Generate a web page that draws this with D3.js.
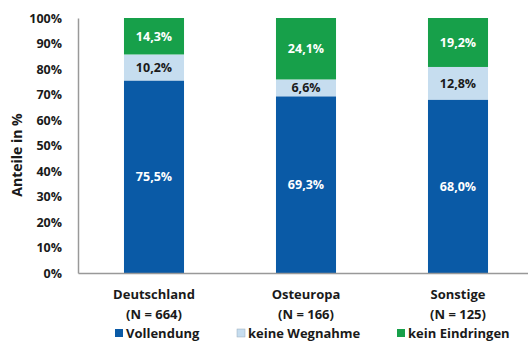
<!DOCTYPE html>
<html>
<head>
<meta charset="utf-8">
<script src="https://cdn.jsdelivr.net/npm/d3@7"></script>
<style>
  body { margin: 0; background: #fff; }
  text { font-family: "Open Sans", sans-serif; font-weight: bold; }
</style>
</head>
<body>
<svg id="chart" width="528" height="342"></svg>
<script>
// data
const groups = ["Deutschland", "Osteuropa", "Sonstige"];
const groupN = ["(N = 664)", "(N = 166)", "(N = 125)"];
const seriesNames = ["Vollendung", "keine Wegnahme", "kein Eindringen"];
const vollendung = [75.5, 69.3, 68.0];
const keineWegnahme = [10.2, 6.6, 12.8];
const keinEindringen = [14.3, 24.1, 19.2];
const yTicks = [0, 10, 20, 30, 40, 50, 60, 70, 80, 90, 100];

const COLORS = ["#0a5aa6", "#c6ddef", "#17a04a"];
const LABEL_COLORS = ["#ffffff", "#1a1a1a", "#ffffff"];

const svg = d3.select("#chart");

const x = d3.scaleBand().domain(groups).range([78, 534]).paddingInner(0.605).paddingOuter(0.3025);
const y = d3.scaleLinear().domain([0, 100]).range([273, 18]);

const rows = groups.map((g, i) => ({
  group: g,
  "Vollendung": vollendung[i],
  "keine Wegnahme": keineWegnahme[i],
  "kein Eindringen": keinEindringen[i]
}));
const stacked = d3.stack().keys(seriesNames)(rows);

// y axis
const yAxis = svg.append("g")
  .attr("transform", "translate(78,0)")
  .call(d3.axisLeft(y).tickValues(yTicks).tickSize(0).tickPadding(16).tickFormat(d => d + "%"));
yAxis.select(".domain").attr("stroke", "#999").attr("stroke-width", 1.5);
yAxis.selectAll("text").attr("font-size", 12.5).attr("fill", "#1a1a1a")
  .style("font-family", "'Open Sans', sans-serif").style("font-weight", "bold");

// bars
const layers = svg.selectAll("g.layer")
  .data(stacked)
  .enter()
  .append("g")
  .classed("layer", true)
  .attr("fill", (d, i) => COLORS[i]);

layers.selectAll("rect")
  .data(d => d)
  .enter()
  .append("rect")
  .attr("x", d => x(d.data.group))
  .attr("width", x.bandwidth())
  .attr("y", d => y(d[1]))
  .attr("height", d => y(d[0]) - y(d[1]));

// value labels
stacked.forEach((layer, li) => {
  svg.append("g").selectAll("text")
    .data(layer)
    .enter()
    .append("text")
    .attr("x", d => x(d.data.group) + x.bandwidth() / 2)
    .attr("y", d => (y(d[0]) + y(d[1])) / 2)
    .attr("dy", "0.35em")
    .attr("text-anchor", "middle")
    .attr("font-size", 12.5)
    .attr("fill", LABEL_COLORS[li])
    .text(d => (d[1] - d[0]).toFixed(1).replace(".", ",") + "%");
});

// x axis
const xAxis = svg.append("g")
  .attr("transform", "translate(0,273)")
  .call(d3.axisBottom(x).tickSize(0).tickFormat(""));
xAxis.select(".domain").attr("stroke", "#999").attr("stroke-width", 1.5);

groups.forEach((g, i) => {
  const cx = x(g) + x.bandwidth() / 2;
  const t = svg.append("text")
    .attr("text-anchor", "middle")
    .attr("font-size", 13)
    .attr("fill", "#1a1a1a");
  t.append("tspan").attr("x", cx).attr("y", 299).text(g);
  t.append("tspan").attr("x", cx).attr("y", 319).text(groupN[i]);
});

// y title
svg.append("text")
  .attr("transform", "translate(22,155) rotate(-90)")
  .attr("text-anchor", "middle")
  .attr("font-size", 14)
  .attr("fill", "#1a1a1a")
  .text("Anteile in %");

// legend
const legendX = [115, 237, 397];
const legend = svg.selectAll("g.legend")
  .data(seriesNames)
  .enter()
  .append("g")
  .classed("legend", true)
  .attr("transform", (d, i) => "translate(" + legendX[i] + ",333)");
legend.append("rect")
  .attr("x", 0).attr("y", -4).attr("width", 8).attr("height", 8)
  .attr("fill", (d, i) => COLORS[i])
  .attr("stroke", (d, i) => i === 1 ? "#9ab" : "none")
  .attr("stroke-width", 0.5);
legend.append("text")
  .attr("x", 11).attr("dy", "0.35em")
  .attr("font-size", 13)
  .attr("fill", "#1a1a1a")
  .text(d => d);
</script>
</body>
</html>
